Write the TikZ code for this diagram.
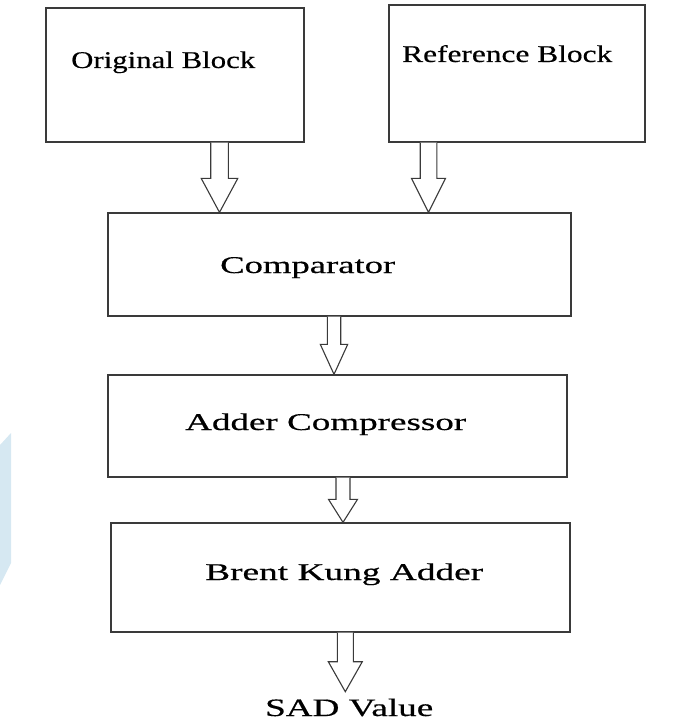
\documentclass[tikz,border=0pt]{standalone}
\usepackage{fontspec}
\setmainfont{Liberation Serif}[FakeBold=0.4]
\usetikzlibrary{calc}
\definecolor{edge}{HTML}{3A3A3A}
\definecolor{tint}{HTML}{D6E8F2}
% label stretched horizontally to a given width, height kept
\newcommand{\wlabel}[2]{\resizebox{#1}{\height}{#2}}
\tikzset{
  blockbox/.style={draw=edge, line width=1.3pt, rectangle, inner sep=0pt},
  lbl/.style={anchor=base west, inner sep=0pt, font=\fontsize{24}{26}\selectfont},
  blk/.style={draw=edge, line width=1.1pt, fill=white, line join=miter},
}
% hollow block arrow: #1 start, #2 end, #3 shaft half width, #4 head half width, #5 head length
\newcommand{\blockarrow}[5]{%
  \draw[blk] let \p1=(#1), \p2=(#2) in
    (\x1-#3pt,\y1) -- (\x1-#3pt,\y2+#5pt) -- (\x1-#4pt,\y2+#5pt) -- (\x1,\y2)
    -- (\x1+#4pt,\y2+#5pt) -- (\x1+#3pt,\y2+#5pt) -- (\x1+#3pt,\y1);}
\begin{document}
\begin{tikzpicture}[x=1pt,y=1pt]
\useasboundingbox (0,0) rectangle (681,-722);
% faint band at the left edge
\fill[tint] (0,-445) -- (11,-433) -- (11,-563) -- (0,-585) -- cycle;

% blocks
\node[blockbox, minimum width=258pt, minimum height=134pt] (orig) at (175,-75) {};
\node[blockbox, minimum width=256pt, minimum height=137pt] (ref) at (517,-73.5) {};
\node[blockbox, minimum width=463pt, minimum height=103pt] (comp) at (339.5,-264.5) {};
\node[blockbox, minimum width=459pt, minimum height=102pt] (addc) at (337.5,-426) {};
\node[blockbox, minimum width=459pt, minimum height=109pt] (bka) at (340.5,-577.5) {};

% labels
\node[lbl] (torig) at (71,-68) {\wlabel{184pt}{Original Block}};
\node[lbl] (tref) at (402,-62) {\wlabel{210pt}{Reference Block}};
\node[lbl] (tcomp) at (220,-273) {\wlabel{175pt}{Comparator}};
\node[lbl] (taddc) at (185,-430) {\wlabel{281pt}{Adder Compressor}};
\node[lbl] (tbka) at (205,-580) {\wlabel{278pt}{Brent Kung Adder}};
\node[lbl, font=\fontsize{25}{27}\selectfont] (sad) at (265,-716) {\wlabel{168pt}{SAD Value}};

% connector end points
\coordinate (a1s) at (orig.south -| 219.5,0);
\coordinate (a1e) at (comp.north -| 219.5,0);
\coordinate (a2s) at (ref.south -| 428.5,0);
\coordinate (a2e) at (comp.north -| 428.5,0);
\coordinate (a3s) at (comp.south -| 334,0);
\coordinate (a3e) at (addc.north -| 334,0);
\coordinate (a4s) at (addc.south -| 343,0);
\coordinate (a4e) at (bka.north -| 343,0);
\coordinate (a5s) at (bka.south -| 345.3,0);
\coordinate (a5e) at (345.3,-691.7);

\blockarrow{a1s}{a1e}{8.8}{18.3}{34}
\blockarrow{a2s}{a2e}{8.3}{17}{34}
\blockarrow{a3s}{a3e}{6.7}{13.7}{30}
\blockarrow{a4s}{a4e}{7}{14.5}{23}
\blockarrow{a5s}{a5e}{8}{17}{30}
\end{tikzpicture}
\end{document}
